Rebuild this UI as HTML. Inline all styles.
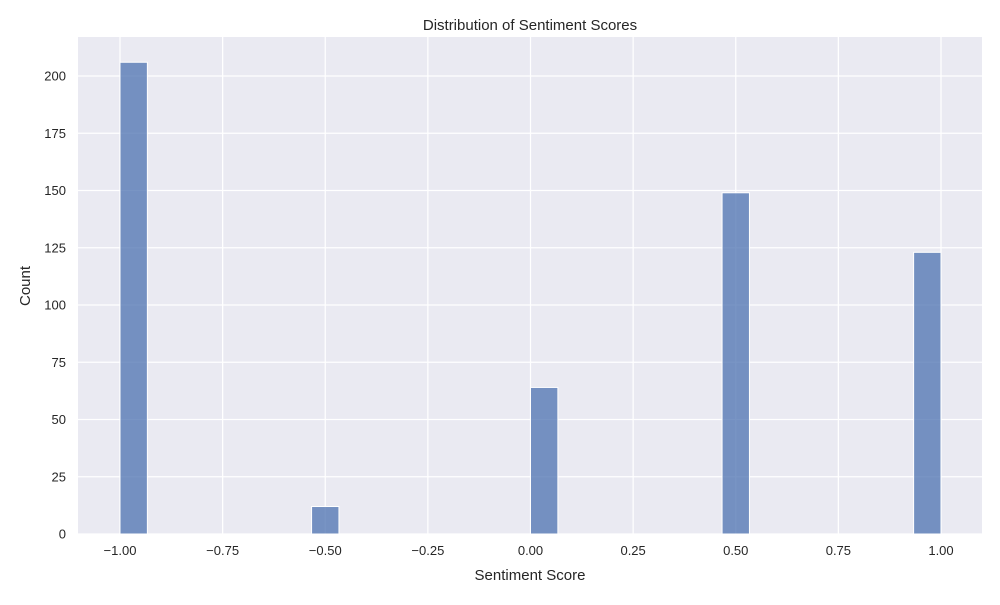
<!DOCTYPE html>
<html><head><meta charset="utf-8"><style>
body{margin:0;background:#fff;}
svg text{font-family:"Liberation Sans",sans-serif;fill:#262626;}
</style></head><body>
<svg id="chart" width="1000" height="600" xmlns="http://www.w3.org/2000/svg">
<rect x="0" y="0" width="1000" height="600" fill="#fff"/>
<g id="plot"></g>
</svg>
<script>
const binStarts=[-1.0,-0.5333,0.0,0.4667,0.9333];
const counts=[206,12,64,149,123];
const binWidth=2/30;
const xTicks=[-1.0,-0.75,-0.5,-0.25,0.0,0.25,0.5,0.75,1.0];
const xTickLabels=["\u22121.00","\u22120.75","\u22120.50","\u22120.25","0.00","0.25","0.50","0.75","1.00"];
const yTicks=[0,25,50,75,100,125,150,175,200];

const L=78,R=982,T=37,B=534;
const X=v=>120+(v+1)*410.5;
const Y=v=>534-v*2.29;
const ns="http://www.w3.org/2000/svg";
const g=document.getElementById('plot');
function mk(tag,attrs,parent){const e=document.createElementNS(ns,tag);for(const k in attrs)e.setAttribute(k,attrs[k]);(parent||g).appendChild(e);return e;}
const bg=mk('rect',{x:L,y:T,width:R-L,height:B-T,fill:'#eaeaf2'});


xTicks.forEach((t,i)=>{
 const l=mk('line',{x1:X(t),x2:X(t),y1:T,y2:B,stroke:'#fff','stroke-width':1.25});
 
 
 const tx=mk('text',{x:X(t),y:B+21,'text-anchor':'middle','font-size':13});
 tx.textContent=xTickLabels[i];
 
 
});
yTicks.forEach(t=>{
 const l=mk('line',{x1:L,x2:R,y1:Y(t),y2:Y(t),stroke:'#fff','stroke-width':1.25});
 
 
 const tx=mk('text',{x:L-12,y:Y(t)+4.5,'text-anchor':'end','font-size':13});
 tx.textContent=t;
 
 
});
binStarts.forEach((s,i)=>{
 const r=mk('rect',{x:X(s),y:Y(counts[i]),width:X(s+binWidth)-X(s),height:Y(0)-Y(counts[i]),fill:'#4c72b0','fill-opacity':0.75,stroke:'#fff','stroke-width':1});
 
 
});
const title=mk('text',{x:530,y:30,'text-anchor':'middle','font-size':15});
title.textContent='Distribution of Sentiment Scores';


const xt=mk('text',{x:530,y:580,'text-anchor':'middle','font-size':15});
xt.textContent='Sentiment Score';


const yt=mk('text',{x:30,y:286,'text-anchor':'middle','font-size':15,transform:'rotate(-90 30 286)'});
yt.textContent='Count';


</script>
</body></html>
